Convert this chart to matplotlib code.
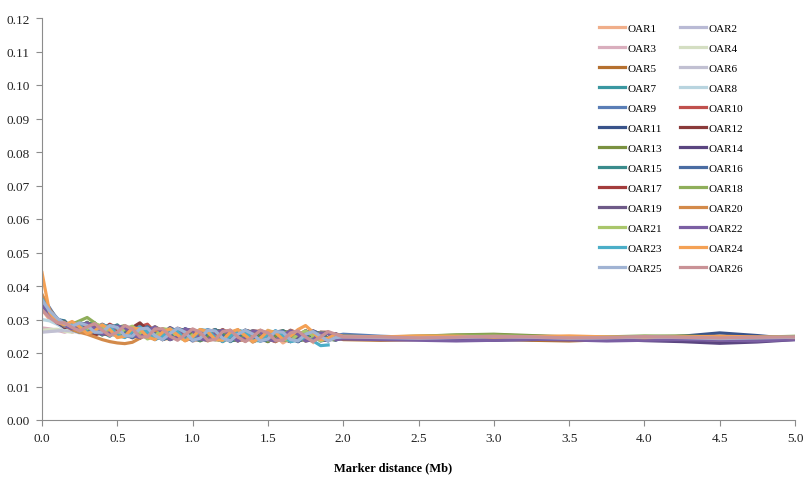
import matplotlib.pyplot as plt

# x positions (Mb): 0-2 Mb every 0.05, then 2-5 Mb every 0.25
x_mb = [0.00, 0.05, 0.10, 0.15, 0.20, 0.25, 0.30, 0.35, 0.40, 0.45,
        0.50, 0.55, 0.60, 0.65, 0.70, 0.75, 0.80, 0.85, 0.90, 0.95,
        1.00, 1.05, 1.10, 1.15, 1.20, 1.25, 1.30, 1.35, 1.40, 1.45,
        1.50, 1.55, 1.60, 1.65, 1.70, 1.75, 1.80, 1.85, 1.90, 1.95,
        2.00, 2.25, 2.50, 2.75, 3.00, 3.25, 3.50, 3.75, 4.00, 4.25,
        4.50, 4.75, 5.00]

# values in units of 0.0001
oar1 = [330, 300, 290, 296, 262, 270, 290, 272, 255, 258,
        280, 268, 245, 250, 275, 262, 240, 244, 270, 262,
        236, 240, 268, 258, 234, 245, 266, 250, 232, 248,
        268, 252, 230, 244, 262, 250, 232]
oar2 = [265, 266, 267, 268, 270, 272, 268, 262, 258, 262,
        270, 272, 262, 250, 248, 258, 268, 266, 252, 242,
        246, 260, 266, 254, 240, 244, 258, 264, 252, 238,
        242, 256, 262, 250, 240, 246, 258, 256, 244, 240,
        246, 245, 248, 246, 242, 240, 244, 248, 246, 242,
        240, 244, 247]
oar3 = [275, 272, 268, 262, 270, 278, 266, 254, 258, 272,
        270, 252, 246, 262, 272, 258, 240, 250, 268, 262,
        242, 238, 256, 268, 256, 236, 244, 264, 260, 238,
        236, 254, 266, 252, 234, 246, 262, 250]
oar4 = [268, 270, 271, 265, 262, 272, 278, 264, 256, 266,
        276, 262, 248, 258, 272, 264, 246, 244, 262, 268,
        250, 238, 250, 266, 258, 238, 242, 262, 262, 244,
        236, 252, 264, 254, 236, 244, 262, 256, 240]
oar5 = [345, 315, 292, 280, 290, 282, 262, 268, 285, 272,
        252, 258, 276, 270, 248, 250, 272, 266, 244, 246,
        268, 264, 242, 240, 260, 268, 250, 236, 248, 266,
        258, 238, 240, 262, 260, 240, 236, 256, 262, 246,
        240, 238, 240, 244, 242, 238, 236, 240, 243, 241,
        238, 240, 243]
oar6 = [262, 264, 266, 268, 266, 260, 266, 276, 270, 254,
        252, 268, 274, 258, 244, 252, 270, 268, 248, 240,
        256, 270, 260, 240, 240, 260, 268, 252, 236, 244,
        264, 262, 242, 234, 252, 266, 256, 238, 240, 258,
        250]
oar7 = [360, 322, 300, 296, 270, 262, 286, 290, 262, 250,
        270, 280, 258, 244, 262, 276, 262, 240, 250, 272,
        264, 238, 244, 268, 262, 236, 242, 266, 262, 238,
        240, 262, 260, 236, 240, 262, 256]
oar8 = [300, 296, 286, 272, 280, 284, 266, 260, 276, 276,
        256, 250, 270, 272, 252, 246, 266, 270, 250, 242,
        260, 268, 252, 238, 250, 266, 258, 238, 244, 264,
        258, 236, 240, 262, 260, 240, 236, 254]
oar9 = [370, 335, 300, 280, 288, 292, 270, 258, 272, 284,
        268, 248, 256, 276, 270, 246, 244, 266, 272, 252,
        236, 250, 270, 262, 240, 240, 262, 266, 248, 236,
        252, 266, 256, 238, 240, 262, 262, 244, 236, 252,
        256, 250, 246, 244, 247, 250, 248, 245, 246, 249,
        250, 247, 245]
oar10 = [340, 318, 296, 278, 284, 290, 268, 256, 270, 286,
         274, 250, 252, 278, 286, 262, 240, 252, 274, 266,
         242, 240, 262, 270, 254, 236, 248, 268, 262, 240,
         240, 262, 266, 246, 234, 250, 266, 256]
oar11 = [355, 318, 300, 294, 276, 268, 284, 282, 260, 256,
         276, 276, 252, 248, 270, 274, 252, 240, 256, 272,
         262, 238, 244, 268, 264, 240, 238, 260, 266, 248,
         234, 248, 266, 258, 238, 240, 260, 260, 244, 238,
         248, 244, 242, 240, 243, 245, 242, 240, 244, 250,
         260, 252, 242]
oar12 = [335, 312, 294, 276, 280, 288, 268, 252, 266, 284,
         272, 264, 276, 290, 268, 248, 256, 272, 262, 240,
         246, 268, 266, 244, 236, 256, 268, 256, 236, 244,
         264, 262, 240, 236, 256, 264]
oar13 = [350, 318, 296, 292, 272, 276, 292, 274, 254, 262,
         282, 270, 248, 252, 276, 270, 246, 242, 264, 270,
         252, 236, 250, 268, 260, 238, 240, 262, 264, 244,
         234, 252, 266, 256, 236, 242, 262, 260, 240, 240,
         250, 248, 250, 254, 256, 252, 248, 246, 249, 251,
         248, 245, 248]
oar14 = [338, 316, 290, 278, 292, 282, 260, 264, 284, 276,
         252, 250, 272, 278, 256, 240, 256, 274, 262, 238,
         244, 268, 264, 242, 236, 256, 266, 254, 234, 242,
         262, 262, 242, 234, 252, 266, 254, 236, 240, 258,
         244, 242, 244, 241, 238, 240, 243, 241, 237, 234,
         229, 233, 240]
oar15 = [352, 322, 302, 286, 274, 282, 290, 266, 254, 274,
         284, 260, 246, 262, 278, 262, 240, 248, 272, 266,
         242, 238, 260, 270, 254, 234, 246, 268, 260, 238,
         238, 262, 266, 248, 234, 248]
oar16 = [365, 330, 304, 282, 276, 290, 284, 262, 258, 280,
         280, 256, 246, 266, 278, 260, 240, 250, 272, 266,
         242, 240, 262, 268, 250, 236, 250, 268, 258, 236,
         240, 264, 264, 244, 234, 250, 266, 256, 238]
oar17 = [342, 314, 296, 290, 274, 270, 286, 284, 260, 254,
         274, 280, 258, 244, 260, 278, 266, 242, 246, 270,
         268, 244, 238, 258, 270, 256, 236, 244, 266, 264,
         242, 234, 252, 268, 258, 236, 240, 262, 262, 244]
oar18 = [348, 318, 296, 280, 286, 296, 306, 290, 266, 258,
         276, 282, 260, 246, 260, 278, 266, 242, 246, 270,
         266, 242, 238, 260, 268, 252, 236, 248, 266, 260,
         238, 238, 258, 266, 250, 236, 244, 262, 258, 240,
         246, 247, 250, 253, 254, 250, 247, 248, 251, 249,
         246, 247, 250]
oar19 = [336, 312, 292, 284, 290, 276, 260, 270, 286, 274,
         252, 252, 274, 276, 254, 242, 258, 276, 264, 240,
         244, 268, 266, 244, 236, 254, 268, 258, 236, 240,
         262, 264, 246, 234, 248, 266, 256]
oar20 = [375, 330, 300, 282, 270, 262, 256, 248, 240, 234,
         230, 228, 232, 244, 258, 268, 260, 246, 244, 262,
         270, 254, 236, 244, 266, 264, 242, 236, 256, 268,
         254, 234, 244, 266, 262, 240, 238, 256]
oar21 = [332, 310, 292, 290, 280, 266, 272, 288, 280, 258,
         252, 272, 280, 262, 242, 250, 272, 270, 248, 238,
         254, 270, 262, 240, 238, 260, 268, 252, 234, 244,
         266, 262, 240, 236, 256, 266, 252, 236, 244]
oar22 = [344, 316, 298, 282, 272, 280, 290, 274, 256, 260,
         280, 276, 254, 246, 266, 278, 262, 240, 248, 272,
         266, 242, 238, 260, 268, 254, 236, 246, 266, 262,
         240, 236, 254, 266, 256, 236, 240, 260, 258, 240,
         242, 240, 238, 236, 238, 241, 239, 236, 238, 240,
         238, 236, 240]
oar23 = [362, 324, 298, 284, 288, 282, 262, 264, 284, 278,
         254, 246, 264, 278, 262, 240, 250, 272, 264, 240,
         244, 268, 268, 246, 234, 250, 268, 262, 238, 236,
         256, 266, 252, 234, 238, 248, 236, 222, 224]
oar24 = [440, 322, 292, 284, 294, 278, 258, 266, 284, 270,
         246, 250, 274, 272, 248, 240, 262, 272, 254, 236,
         248, 270, 264, 240, 238, 262, 270, 252, 234, 244,
         266, 262, 240, 250, 270, 282, 262, 240, 244, 256,
         250, 248, 251, 250, 247, 249, 251, 248, 246, 248,
         250, 248, 246]
oar25 = [358, 326, 304, 288, 280, 290, 282, 262, 262, 282,
         276, 252, 250, 272, 274, 252, 240, 258, 274, 262,
         238, 244, 268, 266, 244, 236, 256, 268, 256, 236,
         242, 264, 262, 240, 236, 256, 264, 250, 236, 246,
         248, 246, 244, 246, 249, 247, 244, 245, 248, 246,
         243, 245, 247]
oar26 = [328, 306, 290, 290, 276, 266, 278, 288, 268, 252,
         262, 282, 272, 248, 248, 272, 272, 250, 238, 254,
         272, 262, 238, 240, 264, 268, 248, 234, 248, 268,
         260, 238, 238, 260, 266, 248, 234, 248, 264, 256,
         248, 248, 245, 247, 250, 248, 245, 246, 249, 247,
         245, 247, 248]

series = [oar1, oar2, oar3, oar4, oar5, oar6, oar7, oar8, oar9, oar10,
          oar11, oar12, oar13, oar14, oar15, oar16, oar17, oar18, oar19,
          oar20, oar21, oar22, oar23, oar24, oar25, oar26]
names = ['OAR%d' % (i + 1) for i in range(len(series))]

colors = ['#F0AE8A', '#B9BAD5', '#D9AEBD', '#D4DEC2', '#B5702F', '#C1C0D2',
          '#3A97A1', '#B8D4DF', '#5A7EB6', '#C0504D', '#39538A', '#8A3A3A',
          '#7A9140', '#5A4580', '#3A8B8C', '#4A6CA2', '#A33C3C', '#8FAE5A',
          '#6E5A88', '#D38A4A', '#A9C66B', '#7B5FA3', '#4BAEC8', '#F4A155',
          '#A0B3D3', '#C99296']

plt.rcParams['font.family'] = ['Liberation Serif', 'DejaVu Serif']

fig = plt.figure(figsize=(8.05, 4.81), dpi=100)
ax = fig.add_axes([42 / 805, 1 - 421 / 481, (795 - 42) / 805, (421 - 19) / 481])

lines = []
for vals, name, col in zip(series, names, colors):
    ln, = ax.plot(x_mb[:len(vals)], [v / 10000 for v in vals], color=col,
                  lw=2.3, label=name, solid_joinstyle='round')
    lines.append(ln)

ax.set_xlim(0, 5)
ax.set_ylim(0, 0.12)
xt = [i * 0.5 for i in range(11)]
ax.set_xticks(xt)
ax.set_xticklabels(['%.1f' % t for t in xt])
yt = [i * 0.01 for i in range(13)]
ax.set_yticks(yt)
ax.set_yticklabels(['%.2f' % t for t in yt])

for s in ['top', 'right']:
    ax.spines[s].set_visible(False)
for s in ['left', 'bottom']:
    ax.spines[s].set_color('#8C8C8C')
ax.tick_params(direction='out', length=4, color='#8C8C8C', labelsize=9.5,
               labelcolor='#222222', pad=5)

fig.text(393 / 805, 1 - 468 / 481, 'Marker distance (Mb)', ha='center',
         va='center', fontsize=9, fontweight='bold')

# legend goes row by row: OAR1 OAR2 / OAR3 OAR4 ...
handles = lines[0::2] + lines[1::2]
ax.legend(handles, [h.get_label() for h in handles], ncol=2, frameon=False,
          loc='upper left', bbox_to_anchor=(599 / 805, 1 - 24 / 481),
          bbox_transform=fig.transFigure, borderpad=0, borderaxespad=0,
          handlelength=2.35, handletextpad=0.2, columnspacing=1.6,
          labelspacing=0.92, prop={'size': 8})

fig.savefig('out.png', dpi=100)
